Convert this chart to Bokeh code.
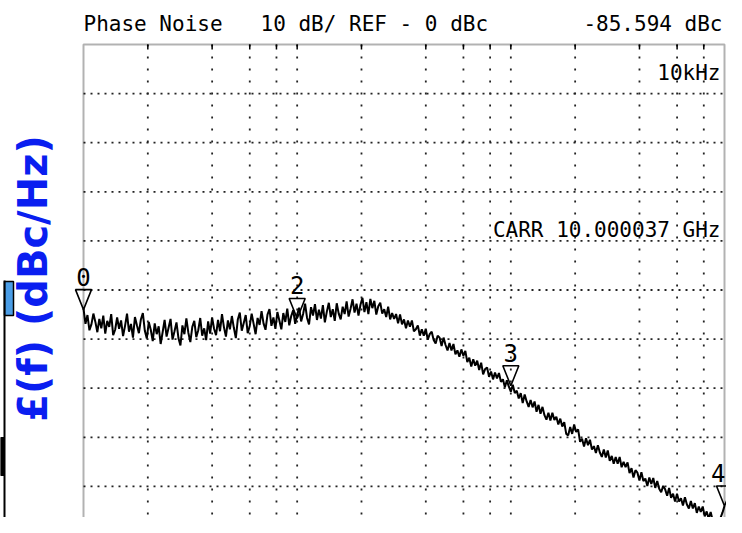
import numpy as np
from bokeh.plotting import figure
from bokeh.models import Range1d, BoxAnnotation
from bokeh.core.properties import value
from bokeh.embed import file_html
from bokeh.resources import INLINE

# ---------------- data ----------------
trace_db = [
    -43.8, -46.9, -45.1, -48.2, -47.0, -44.8, -46.5, -48.6, -45.9, -47.8,
    -45.2, -48.9, -46.3, -47.5, -44.9, -49.2, -48.1, -45.6, -47.9, -46.2,
    -49.4, -47.3, -44.8, -48.5, -46.9, -49.7, -45.5, -47.2, -48.8, -46.0,
    -44.7, -48.3, -49.9, -46.5, -48.1, -50.4, -46.8, -49.0, -47.4, -51.0,
    -48.6, -46.1, -49.5, -47.7, -45.9, -50.1, -48.4, -46.6, -49.8, -51.3,
    -47.2, -49.0, -45.8, -48.7, -50.6, -47.5, -46.3, -49.6, -48.2, -45.7,
    -49.3, -47.8, -50.2, -46.4, -48.9, -45.6, -47.9, -49.2, -46.1, -48.4,
    -44.9, -47.6, -49.5, -46.2, -48.0, -45.3, -47.7, -49.8, -46.0, -44.6,
    -48.3, -46.7, -45.1, -48.8, -47.4, -44.8, -46.9, -49.0, -45.7, -47.1,
    -44.3, -46.8, -48.1, -45.0, -43.9, -47.3, -45.6, -47.9, -44.5, -46.2,
    -48.0, -44.7, -46.5, -43.8, -47.2, -45.3, -44.1, -46.9, -45.0, -43.6,
    -46.4, -44.9, -42.8, -45.7, -47.0, -43.5, -45.2, -42.9, -46.1, -44.0,
    -45.8, -43.1, -46.6, -44.4, -42.6, -45.5, -43.9, -46.3, -42.7, -44.8,
    -46.0, -43.4, -44.9, -42.3, -45.4, -43.8, -41.9, -44.6, -42.8, -45.2,
    -43.0, -41.6, -44.5, -42.5, -44.9, -41.8, -43.7, -42.2, -45.0, -43.3,
    -42.6, -44.8, -43.9, -45.5, -43.4, -46.0, -44.7, -45.9, -44.9, -46.8,
    -45.0, -47.0, -46.0, -47.8, -46.2, -47.5, -46.2, -48.4, -48.0, -47.2,
    -49.3, -48.0, -49.3, -47.9, -50.1, -49.0, -48.5, -50.2, -50.9, -49.3,
    -49.7, -51.4, -49.7, -51.2, -52.3, -50.8, -52.3, -51.0, -53.1, -52.3,
    -53.6, -52.1, -53.4, -52.4, -54.7, -53.8, -55.6, -54.1, -55.4, -54.4,
    -56.3, -54.8, -57.2, -56.1, -55.8, -57.7, -56.6, -58.2, -56.8, -58.0,
    -56.9, -58.7, -58.2, -59.8, -58.4, -59.7, -60.7, -59.3, -61.0, -60.5,
    -62.1, -61.0, -63.0, -61.3, -62.7, -63.8, -62.4, -63.9, -62.7, -64.8,
    -63.4, -65.2, -63.8, -65.5, -66.4, -65.0, -66.6, -65.0, -66.5, -65.8,
    -67.4, -66.2, -67.8, -66.9, -69.3, -69.6, -67.9, -69.3, -67.4, -68.9,
    -68.4, -70.9, -70.3, -71.9, -70.2, -71.6, -70.5, -72.5, -71.8, -73.2,
    -71.6, -73.1, -74.0, -72.5, -74.1, -72.7, -74.8, -73.8, -75.4, -74.0,
    -75.4, -74.0, -76.1, -75.0, -76.1, -75.1, -77.3, -76.3, -78.2, -76.7,
    -77.2, -78.8, -77.1, -78.9, -78.4, -79.9, -78.2, -79.5, -78.3, -80.3,
    -78.9, -80.5, -81.2, -79.9, -80.6, -81.9, -80.3, -82.3, -81.5, -83.1,
    -81.5, -83.1, -82.4, -83.9, -82.2, -83.7, -84.5, -83.0, -84.5, -83.4,
    -85.4, -84.1, -85.2, -84.1, -86.1, -85.1, -86.6, -85.2, -86.9, -86.7,
    -88.0, -87.2, -86.4, -85.3, -84.0,
]
f_start, f_stop = 10, 10000            # sweep limits (Hz)
marker_freq = [10, 100, 1000, 10000]
marker_db = [-44.0, -45.8, -59.5, -84.0]
marker_label = ["0", "2", "3", "4"]
freq_grid = [20, 40, 60, 80, 100, 200, 400, 600, 800, 1000, 2000, 4000, 6000, 8000]
db_top = 10
db_grid = [0, -10, -20, -30, -40, -50, -60, -70, -80]

NB = "\u00a0"
title_left = "Phase Noise" + NB * 3 + "10 dB/ REF - 0 dBc"
title_right = "-85.594 dBc"
marker_freq_text = "10kHz"
carrier_text = "CARR 10.000037 GHz"
ylabel_text = "£(f) (dBc/Hz)"

# ---------------- layout helpers (picture pixels -> data) ----------------
W, H = 726, 517
BOX_L, BOX_R = 83, 724
PX_DEC = (BOX_R - BOX_L) / 3.0
BOX_T, PX_DB = 44, 4.91


def fx(X):
    return 10 ** (np.log10(f_start) + (X - BOX_L) / PX_DEC)


def dy(Y):
    return db_top - (Y - BOX_T) / PX_DB


p = figure(width=W, height=H, x_axis_type="log",
           x_range=Range1d(fx(0), fx(W)), y_range=Range1d(dy(H), dy(0)),
           x_axis_location=None, y_axis_location=None,
           toolbar_location=None, output_backend="svg", min_border=0)
p.outline_line_color = None
p.xgrid.visible = False
p.ygrid.visible = False
p.background_fill_color = "white"
p.border_fill_color = "white"

ybot = dy(H)
# dotted graticule
p.segment(x0=freq_grid, y0=[db_top] * len(freq_grid), x1=freq_grid, y1=[ybot] * len(freq_grid),
          line_color="#222222", line_width=1.8, line_dash="2 10")
p.segment(x0=[f_start] * len(db_grid), y0=db_grid, x1=[f_stop] * len(db_grid), y1=db_grid,
          line_color="#222222", line_width=1.8, line_dash="2 5")
# small ticks under the top border
p.segment(x0=freq_grid, y0=[db_top] * len(freq_grid), x1=freq_grid,
          y1=[db_top - 5 / PX_DB] * len(freq_grid), line_color="black", line_width=1.5)

# frame box (bottom edge lies below the picture)
p.add_layout(BoxAnnotation(left=f_start, right=f_stop, top=db_top, bottom=ybot - 20,
                           fill_alpha=0, line_color="black", line_width=2))

# trace
freqs = np.logspace(np.log10(f_start), np.log10(f_stop), len(trace_db))
p.line(freqs, trace_db, line_color="black", line_width=2)

# markers (inverted triangles with the tip on the trace)
half_w = 8 / PX_DEC
tri_h = 20 / PX_DB
xs = [[f * 10 ** -half_w, f * 10 ** half_w, f] for f in marker_freq]
ys = [[v + tri_h, v + tri_h, v] for v in marker_db]
p.patches(xs, ys, fill_alpha=0, line_color="black", line_width=1.6)
mono = value("DejaVu Sans Mono")
p.text(x=marker_freq[:-1], y=marker_db[:-1], text=marker_label[:-1], text_align="center",
       text_baseline="alphabetic", y_offset=-33, text_font=mono,
       text_font_size="24px", text_color="black")
p.text(x=marker_freq[-1:], y=marker_db[-1:], text=marker_label[-1:], text_align="right",
       text_baseline="alphabetic", y_offset=-33, x_offset=1, text_font=mono,
       text_font_size="24px", text_color="black")

p.text(x=[fx(83)], y=[dy(23)], text=[title_left], text_align="left", text_baseline="alphabetic",
       text_font=mono, text_font_size="21px", text_color="black")
p.text(x=[fx(722)], y=[dy(23)], text=[title_right], text_align="right", text_baseline="alphabetic",
       text_font=mono, text_font_size="21px", text_color="black")
p.text(x=[fx(720)], y=[dy(72)], text=[marker_freq_text], text_align="right", text_baseline="alphabetic",
       text_font=mono, text_font_size="21px", text_color="black")
p.text(x=[fx(720)], y=[dy(229)], text=[carrier_text], text_align="right", text_baseline="alphabetic",
       text_font=mono, text_font_size="21px", text_color="black")

# rotated blue y label
p.text(x=[fx(32)], y=[dy(278)], text=[ylabel_text], angle=np.pi / 2, text_align="center",
       text_baseline="alphabetic", text_font=value("DejaVu Sans"), text_font_style="bold",
       text_font_size="40px", text_color="#0a1ef0")

# remnant of a neighbouring panel at the left edge
p.quad(left=[fx(4)], right=[fx(13)], top=[dy(281)], bottom=[dy(315)],
       fill_color="#4a9de6", line_color="black", line_width=1.5)
p.quad(left=[fx(0)], right=[fx(4)], top=[dy(437)], bottom=[dy(475)],
       fill_color="black", line_color="black", line_width=1)
p.segment(x0=[fx(4)], y0=[dy(280)], x1=[fx(4)], y1=[dy(H)], line_color="black", line_width=2)

open("out.html", "w").write(file_html(p, INLINE))
